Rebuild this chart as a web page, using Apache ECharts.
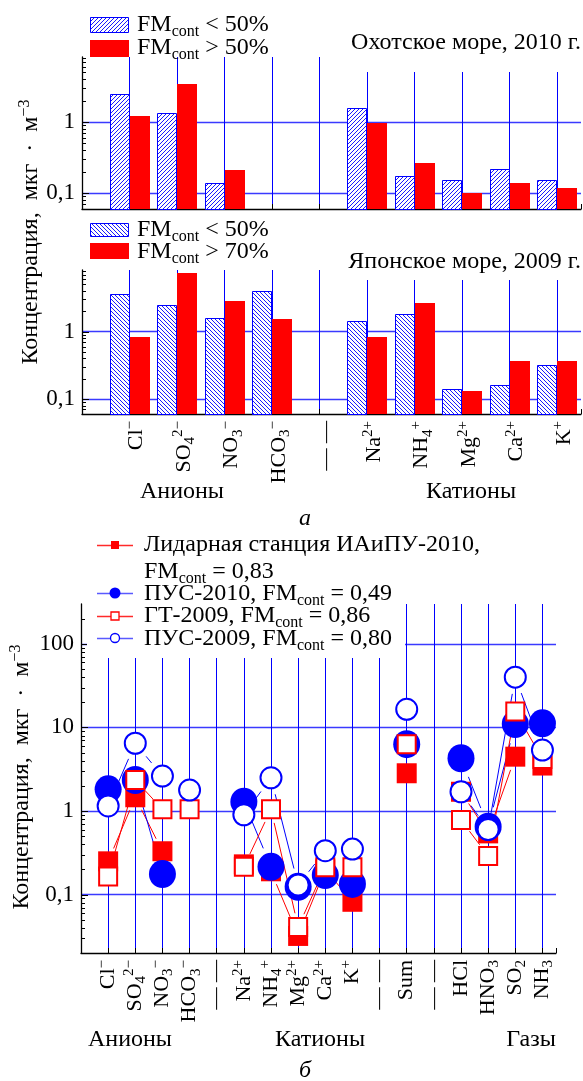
<!DOCTYPE html>
<html>
<head>
<meta charset="utf-8">
<script src="https://cdn.jsdelivr.net/npm/echarts@6/dist/echarts.min.js"></script>
<style>
  html, body { margin: 0; padding: 0; background: #fff; }
  #chart { width: 583px; height: 1081px; }
</style>
</head>
<body>
<div id="chart"></div>
<script>
// ---- Panel а: ion categories (rich-text labels) ----
const ionLabels = [
  '{b|Cl}{sup|−}', '{b|SO}{sub|4}{sup|2−}', '{b|NO}{sub|3}{sup|−}', '{b|HCO}{sub|3}{sup|−}',
  '{b|— —}', '{b|Na}{sup|2+}', '{b|NH}{sub|4}{sup|+}', '{b|Mg}{sup|2+}', '{b|Ca}{sup|2+}', '{b|K}{sup|+}'
];
// Okhotsk Sea, 2010 (µg/m³)
const okhotskLow  = [2.5, 1.35, 0.139, null, null, 1.59, 0.175, 0.152, 0.221, 0.152];
const okhotskHigh = [1.2, 3.4, 0.214, null, null, 0.97, 0.263, 0.10, 0.139, 0.117];
// Sea of Japan, 2009 (µg/m³)
const japanLow  = [3.6, 2.47, 1.61, 4.0, null, 1.44, 1.81, 0.141, 0.161, 0.32];
const japanHigh = [0.83, 7.3, 2.86, 1.55, null, 0.83, 2.67, 0.13, 0.363, 0.366];

// ---- Panel б: ions, sum and gases ----
const sampleLabels = [
  '{b|Cl}{sup|−}', '{b|SO}{sub|4}{sup|2−}', '{b|NO}{sub|3}{sup|−}', '{b|HCO}{sub|3}{sup|−}', '{b|— —}',
  '{b|Na}{sup|2+}', '{b|NH}{sub|4}{sup|+}', '{b|Mg}{sup|2+}', '{b|Ca}{sup|2+}', '{b|K}{sup|+}', '{b|— —}',
  '{b|Sum}', '{b|— —}', '{b|HCl}', '{b|HNO}{sub|3}', '{b|SO}{sub|2}', '{b|NH}{sub|3}'
];
const lidar2010 = [0.25, 1.46, 0.33, null, null, 0.23, 0.19, 0.032, 0.2, 0.082, null, 2.83, null, 1.7, 0.54, 4.47, 3.5];
const pus2010   = [1.82, 2.35, 0.176, null, null, 1.29, 0.215, 0.124, 0.171, 0.134, null, 6.3, null, 4.28, 0.65, 11.0, 11.2];
const gt2009    = [0.165, 2.35, 1.05, 1.05, null, 0.215, 1.05, 0.041, 0.213, 0.212, null, 6.3, null, 0.78, 0.29, 15.5, 4.2];
const pus2009   = [1.15, 6.47, 2.62, 1.78, null, 0.9, 2.5, 0.13, 0.335, 0.35, null, 16.5, null, 1.7, 0.6, 40, 5.37];

// axis ranges and decade labels
const yRangeA = [0.06, 8.2];
const yRangeB = [0.02, 300];
const decadeText = { 0.1: '0,1', 1: '1', 10: '10', 100: '100' };

const FONT = '"Liberation Serif", "DejaVu Serif", serif';
const BLUE = '#0000ff';
const RED = '#ff0000';
const GRID_BLUE = '#3a3aff';

function richSet(base, small, lh) {
  const t = { fontFamily: FONT, color: '#000', fill: '#000' };
  return {
    b:   Object.assign({}, t, { fontSize: base, lineHeight: lh }),
    sub: Object.assign({}, t, { fontSize: small, lineHeight: small - 2, verticalAlign: 'bottom' }),
    sup: Object.assign({}, t, { fontSize: small, lineHeight: small - 2, verticalAlign: 'top' })
  };
}
const labelRich = richSet(22, 15, 27);
const textRich = richSet(24, 16, 29);

// diagonal hatch tile
function hatch(dir) {
  const s = 4;
  const cv = document.createElement('canvas');
  cv.width = s; cv.height = s;
  const g = cv.getContext('2d');
  g.fillStyle = '#fff'; g.fillRect(0, 0, s, s);
  g.strokeStyle = BLUE; g.lineWidth = 0.9;
  g.beginPath();
  if (dir > 0) {
    g.moveTo(-1, s + 1); g.lineTo(s + 1, -1);
    g.moveTo(-1, 1); g.lineTo(1, -1);
    g.moveTo(s - 1, s + 1); g.lineTo(s + 1, s - 1);
  } else {
    g.moveTo(-1, -1); g.lineTo(s + 1, s + 1);
    g.moveTo(s - 1, -1); g.lineTo(s + 1, 1);
    g.moveTo(-1, s - 1); g.lineTo(1, s + 1);
  }
  g.stroke();
  return { image: cv, repeat: 'repeat' };
}
const hatchUp = hatch(1);
const hatchDown = hatch(-1);

function points(arr) {
  return arr.map((v, k) => (v == null ? null : [k + 1, v])).filter(Boolean);
}
function segments(arr) {
  const out = [];
  for (let k = 0; k < arr.length - 1; k++) {
    if (arr[k] != null && arr[k + 1] != null) out.push([k + 1, arr[k], k + 2, arr[k + 1]]);
  }
  return out;
}
function minorTicks(lo, hi) {
  const out = [];
  for (let e = -3; e <= 3; e++) {
    for (let m = 2; m <= 9; m++) {
      const v = +(m * Math.pow(10, e)).toPrecision(3);
      if (v > lo && v < hi) out.push(v);
    }
  }
  return out;
}
function majorTicks(lo, hi) {
  return Object.keys(decadeText).map(Number).filter(v => v > lo && v < hi);
}

function xAxisFor(gridIndex, labels, showLabels, shift) {
  return {
    type: 'value', gridIndex, min: 0, max: labels.length + 0.5, interval: 1,
    axisLine: { show: true, onZero: false, lineStyle: { color: '#000', width: 1.3 } },
    axisTick: { show: true, inside: true, length: 5, lineStyle: { color: '#000' } },
    splitLine: { show: true, showMinLine: false, showMaxLine: false, lineStyle: { color: BLUE, width: 1 } },
    axisLabel: {
      show: showLabels, rotate: 90, margin: 7, rich: labelRich,
      padding: [shift, 0, 0, 0],
      formatter: v => (Number.isInteger(v) && v >= 1 && v <= labels.length) ? labels[v - 1] : ''
    }
  };
}
function yAxisFor(gridIndex, range) {
  return {
    type: 'log', logBase: 10, gridIndex, min: range[0], max: range[1],
    axisLine: { show: true, lineStyle: { color: '#000', width: 1.3 } },
    axisTick: { show: false },
    splitLine: { show: true, showMinLine: false, showMaxLine: false, lineStyle: { color: GRID_BLUE, width: 1.3 } },
    axisLabel: {
      fontFamily: FONT, fontSize: 23, color: '#000', margin: 7,
      formatter: v => decadeText[+(+v).toPrecision(6)] || ''
    }
  };
}

// bars: side -1 = left of the category line, +1 = right
function barSeries(gi, arr, side, fill, stroke, yMin) {
  return {
    type: 'custom', xAxisIndex: gi, yAxisIndex: gi, z: 3, silent: true,
    data: points(arr),
    renderItem: (params, api) => {
      const i = api.value(0), v = api.value(1);
      const top = api.coord([i, v]);
      const base = api.coord([i, yMin]);
      const step = api.coord([i + 1, v])[0] - top[0];
      const w = Math.round(step * 0.42);
      const xc = Math.round(top[0]);
      const x = side < 0 ? xc - w : xc;
      const yTop = Math.round(top[1]);
      return {
        type: 'rect',
        shape: { x: x + (stroke ? 0.5 : 0), y: yTop + (stroke ? 0.5 : 0), width: w - (stroke ? 1 : 0), height: base[1] - yTop },
        style: { fill, stroke: stroke || null, lineWidth: stroke ? 1 : 0 }
      };
    }
  };
}
function tickSeries(gi, values, len) {
  return {
    type: 'custom', xAxisIndex: gi, yAxisIndex: gi, z: 4, silent: true,
    data: values.map(v => [0, v]),
    renderItem: (params, api) => {
      const p = api.coord([0, api.value(1)]);
      const y = Math.round(p[1]) + 0.5;
      return { type: 'line', shape: { x1: p[0], y1: y, x2: p[0] + len, y2: y }, style: { stroke: '#000', lineWidth: 1 } };
    }
  };
}
function connectorSeries(arr, color, gap) {
  return {
    type: 'custom', xAxisIndex: 2, yAxisIndex: 2, z: 2, silent: true,
    data: segments(arr),
    encode: { x: [0, 2], y: [1, 3] },
    renderItem: (params, api) => {
      const a = api.coord([api.value(0), api.value(1)]);
      const b = api.coord([api.value(2), api.value(3)]);
      const dx = b[0] - a[0], dy = b[1] - a[1];
      const L = Math.hypot(dx, dy);
      if (L <= 2 * gap + 2) return null;
      const ux = dx / L, uy = dy / L;
      return {
        type: 'line',
        shape: { x1: a[0] + ux * gap, y1: a[1] + uy * gap, x2: b[0] - ux * gap, y2: b[1] - uy * gap },
        style: { stroke: color, lineWidth: 1 }
      };
    }
  };
}
function markerSeries(arr, z, symbol, size, itemStyle) {
  return {
    type: 'scatter', xAxisIndex: 2, yAxisIndex: 2, z, silent: true,
    symbol, symbolSize: size, itemStyle: Object.assign({ opacity: 1 }, itemStyle),
    emphasis: { disabled: true },
    data: points(arr)
  };
}

function txt(x, y, text, styleOpts, elemOpts) {
  return Object.assign({
    type: 'text', x, y, z: 20,
    style: Object.assign({
      text, fontFamily: FONT, fontSize: 24, fill: '#000',
      align: 'left', verticalAlign: 'middle', rich: textRich
    }, styleOpts || {})
  }, elemOpts || {});
}
function whiteBox(x, y, w, h) {
  return { type: 'rect', z: 15, shape: { x, y, width: w, height: h }, style: { fill: '#fff' } };
}

const legendB = [
  { y: 545, kind: 'fsq' }, { y: 593, kind: 'fci' }, { y: 616, kind: 'osq' }, { y: 638, kind: 'oci' }
];
function legendSymbol(row) {
  const red = row.kind.endsWith('sq');
  const line = { type: 'line', z: 20, shape: { x1: 97, y1: row.y + 0.5, x2: 133, y2: row.y + 0.5 },
    style: { stroke: red ? '#ff2a2a' : '#5a5aff', lineWidth: 1.4 } };
  let sym;
  if (row.kind === 'fsq') sym = { type: 'rect', z: 21, shape: { x: 111, y: row.y - 4, width: 8, height: 8 }, style: { fill: RED } };
  if (row.kind === 'osq') sym = { type: 'rect', z: 21, shape: { x: 111, y: row.y - 4, width: 8, height: 8 }, style: { fill: '#fff', stroke: RED, lineWidth: 1.3 } };
  if (row.kind === 'fci') sym = { type: 'circle', z: 21, shape: { cx: 115, cy: row.y, r: 5.5 }, style: { fill: BLUE } };
  if (row.kind === 'oci') sym = { type: 'circle', z: 21, shape: { cx: 115, cy: row.y, r: 4.5 }, style: { fill: '#fff', stroke: BLUE, lineWidth: 1.3 } };
  return [line, sym];
}

const yName = '{b|Концентрация,\u2002мкг\u2002·\u2002м}{sup|−3}';

const chart = echarts.init(document.getElementById('chart'), null, { renderer: 'canvas' });
chart.setOption({
  animation: false,
  backgroundColor: '#fff',
  grid: [
    { left: 82, top: 57, width: 499, height: 152, outerBoundsMode: 'none', containLabel: false },
    { left: 82, top: 270, width: 499, height: 144, outerBoundsMode: 'none', containLabel: false },
    { left: 81, top: 604, width: 475, height: 349, outerBoundsMode: 'none', containLabel: false }
  ],
  xAxis: [
    xAxisFor(0, ionLabels, false, 0),
    xAxisFor(1, ionLabels, true, 14),
    xAxisFor(2, sampleLabels, true, 0)
  ],
  yAxis: [
    yAxisFor(0, yRangeA),
    yAxisFor(1, yRangeA),
    yAxisFor(2, yRangeB)
  ],
  series: [
    barSeries(0, okhotskLow, -1, hatchUp, BLUE, yRangeA[0]),
    barSeries(0, okhotskHigh, 1, RED, null, yRangeA[0]),
    barSeries(1, japanLow, -1, hatchDown, BLUE, yRangeA[0]),
    barSeries(1, japanHigh, 1, RED, null, yRangeA[0]),
    tickSeries(0, minorTicks(yRangeA[0], yRangeA[1]), 4),
    tickSeries(0, majorTicks(yRangeA[0], yRangeA[1]), 7),
    tickSeries(1, minorTicks(yRangeA[0], yRangeA[1]), 4),
    tickSeries(1, majorTicks(yRangeA[0], yRangeA[1]), 7),
    tickSeries(2, minorTicks(yRangeB[0], yRangeB[1]), 4),
    tickSeries(2, majorTicks(yRangeB[0], yRangeB[1]), 7),
    connectorSeries(lidar2010, RED, 14),
    connectorSeries(pus2010, BLUE, 20),
    connectorSeries(gt2009, RED, 14),
    connectorSeries(pus2009, BLUE, 17),
    markerSeries(lidar2010, 5, 'rect', 20, { color: RED }),
    markerSeries(pus2010, 6, 'circle', [27, 28], { color: BLUE }),
    markerSeries(gt2009, 7, 'rect', 18, { color: '#fff', borderColor: RED, borderWidth: 2 }),
    markerSeries(pus2009, 8, 'circle', 21, { color: '#fff', borderColor: BLUE, borderWidth: 2 })
  ],
  graphic: [
    // panel а, upper plot
    { type: 'rect', z: 20, shape: { x: 90.5, y: 17.5, width: 38, height: 15 }, style: { fill: hatchUp, stroke: BLUE, lineWidth: 1 } },
    { type: 'rect', z: 20, shape: { x: 90, y: 40, width: 39, height: 17 }, style: { fill: RED } },
    txt(137, 25, '{b|FM}{sub|cont}{b| < 50%}'),
    txt(137, 48, '{b|FM}{sub|cont}{b| > 50%}'),
    whiteBox(330, 50, 253, 22),
    txt(581, 43, '{b|Охотское море, 2010 г.}', { align: 'right' }),
    // panel а, lower plot
    { type: 'rect', z: 20, shape: { x: 90.5, y: 223.5, width: 38, height: 13 }, style: { fill: hatchDown, stroke: BLUE, lineWidth: 1 } },
    { type: 'rect', z: 20, shape: { x: 90, y: 243, width: 39, height: 16 }, style: { fill: RED } },
    txt(137, 230, '{b|FM}{sub|cont}{b| < 50%}'),
    txt(137, 252, '{b|FM}{sub|cont}{b| > 70%}'),
    whiteBox(330, 266, 253, 14),
    txt(581, 262, '{b|Японское море, 2009 г.}', { align: 'right' }),
    txt(31, 232, yName, { align: 'center' }, { rotation: Math.PI / 2 }),
    txt(182, 492, '{b|Анионы}', { align: 'center' }),
    txt(471, 492, '{b|Катионы}', { align: 'center' }),
    txt(305, 519, 'а', { align: 'center', fontStyle: 'italic', rich: null }),
    // panel б
    whiteBox(87, 598, 318, 60),
    ...legendB.flatMap(legendSymbol),
    txt(144, 545, '{b|Лидарная станция ИАиПУ-2010,}'),
    txt(144, 572, '{b|FM}{sub|cont}{b| = 0,83}'),
    txt(144, 594, '{b|ПУС-2010, FM}{sub|cont}{b| = 0,49}'),
    txt(144, 616, '{b|ГТ-2009, FM}{sub|cont}{b| = 0,86}'),
    txt(144, 639, '{b|ПУС-2009, FM}{sub|cont}{b| = 0,80}'),
    txt(22, 777, yName, { align: 'center' }, { rotation: Math.PI / 2 }),
    txt(130, 1040, '{b|Анионы}', { align: 'center' }),
    txt(320, 1040, '{b|Катионы}', { align: 'center' }),
    txt(531, 1040, '{b|Газы}', { align: 'center' }),
    txt(305, 1071, 'б', { align: 'center', fontStyle: 'italic', rich: null })
  ]
});
</script>
</body>
</html>
